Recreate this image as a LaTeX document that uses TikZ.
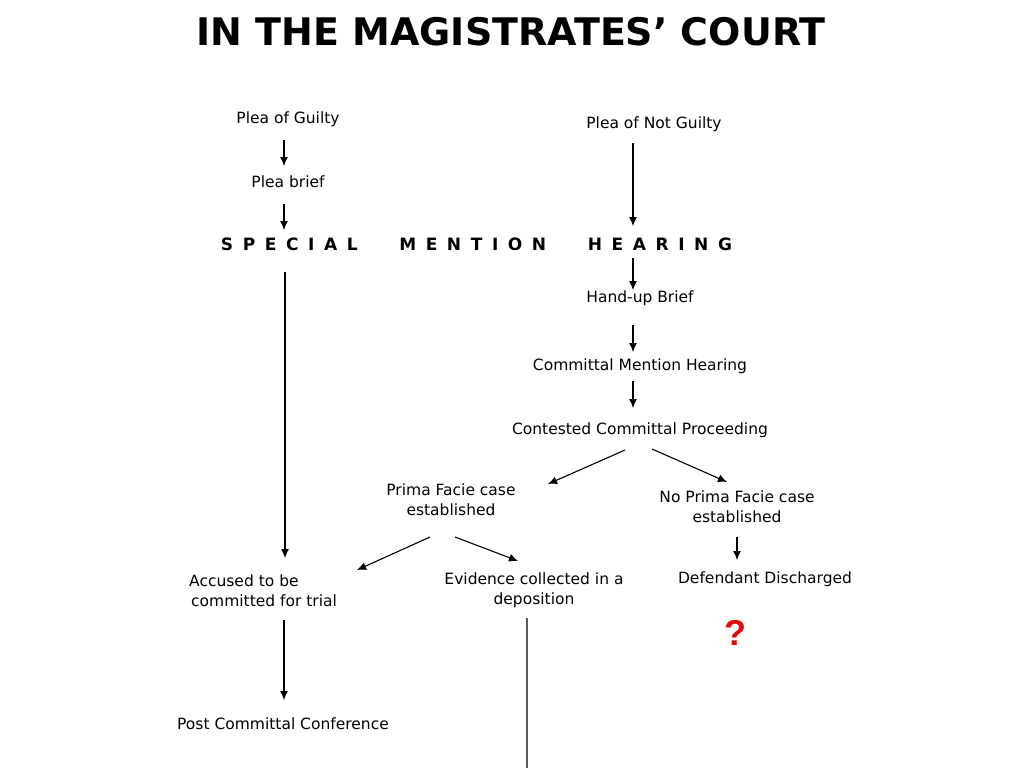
\documentclass[tikz,border=0pt]{standalone}
\usepackage{fontspec}
\setmainfont{DejaVu Sans}
\newfontfamily\qfont{Liberation Sans}
\usetikzlibrary{arrows.meta}
\definecolor{qred}{RGB}{222,12,12}
\definecolor{linegray}{RGB}{90,90,90}
\begin{document}
\begin{tikzpicture}[x=1pt,y=-1pt,
  lbl/.style={inner sep=0pt,font=\fontsize{15.5}{20}\selectfont,align=center},
  arr/.style={draw=black,line width=1.1pt,-{Latex[length=9pt,width=8pt]}},
  plainline/.style={draw=linegray,line width=1.3pt}]
\useasboundingbox (0,0) rectangle (1024,768);
% title
\node[inner sep=0pt,font=\bfseries\fontsize{38}{40}\selectfont] (title) at (511,32) {IN THE MAGISTRATES' COURT};
% nodes
\node[lbl] (pg)  at (288,119) {Plea of Guilty};
\node[lbl] (png) at (654,124) {Plea of Not Guilty};
\node[lbl] (pb)  at (288,182) {Plea brief};
\node[inner sep=0pt,font=\bfseries\fontsize{17}{20}\selectfont] (smh) at (476.5,244)
  {\spaceskip=9.6pt\relax S P E C I A L\hspace{32pt} M E N T I O N\hspace{32pt} H E A R I N G};
\node[lbl] (hub) at (640,298) {Hand-up Brief};
\node[lbl] (cmh) at (640,366) {Committal Mention Hearing};
\node[lbl] (ccp) at (640,430) {Contested Committal Proceeding};
\node[lbl] (pf)  at (451,500) {Prima Facie case\\established};
\node[lbl] (npf) at (737,507) {No Prima Facie case\\established};
\node[lbl,align=left,anchor=west] (acc) at (189,591) {Accused to be\\\hspace{2pt}committed for trial};
\node[lbl] (ev)  at (534,590) {Evidence collected in a\\deposition};
\node[lbl] (dd)  at (765,579) {Defendant Discharged};
\node[lbl] (pcc) at (283,724) {Post Committal Conference};
\node[inner sep=0pt,text=qred,font=\qfont\bfseries\fontsize{36}{38}\selectfont] (q) at (735,633) {?};
\coordinate (bot) at (527,768);
% connectors
\draw[arr] ([shift={(-4pt,-21pt)}]pg.center) -- ([shift={(-4pt,16pt)}]pb.center);
\draw[arr] ([shift={(-4pt,-22pt)}]pb.center) -- ([shift={(-192.5pt,14pt)}]smh.center);
\draw[arr] ([shift={(-21pt,-19pt)}]png.center) -- ([shift={(156.5pt,18pt)}]smh.center);
\draw[arr] ([shift={(156.5pt,-14pt)}]smh.center) -- ([shift={(-7pt,8pt)}]hub.center);
\draw[arr] ([shift={(-7pt,-27pt)}]hub.center) -- ([shift={(-7pt,14pt)}]cmh.center);
\draw[arr] ([shift={(-7pt,-15pt)}]cmh.center) -- ([shift={(-7pt,22pt)}]ccp.center);
\draw[arr] ([shift={(-15pt,-20pt)}]ccp.center) -- ([shift={(97pt,16pt)}]pf.center);
\draw[arr] ([shift={(12pt,-19pt)}]ccp.center) -- ([shift={(-10pt,25pt)}]npf.center);
\draw[arr] ([shift={(-21pt,-37pt)}]pf.center) -- ([shift={(168pt,21pt)}]acc.west);
\draw[arr] ([shift={(4pt,-37pt)}]pf.center) -- ([shift={(-16pt,29pt)}]ev.center);
\draw[arr] ([shift={(-191.5pt,-28pt)}]smh.center) -- ([shift={(96pt,33pt)}]acc.west);
\draw[arr] ([shift={(95pt,-29pt)}]acc.west) -- ([shift={(1pt,24pt)}]pcc.center);
\draw[arr] ([shift={(0pt,-30pt)}]npf.center) -- ([shift={(-28pt,19pt)}]dd.center);
\draw[plainline] ([shift={(-7pt,-28pt)}]ev.center) -- (bot);
\end{tikzpicture}
\end{document}
